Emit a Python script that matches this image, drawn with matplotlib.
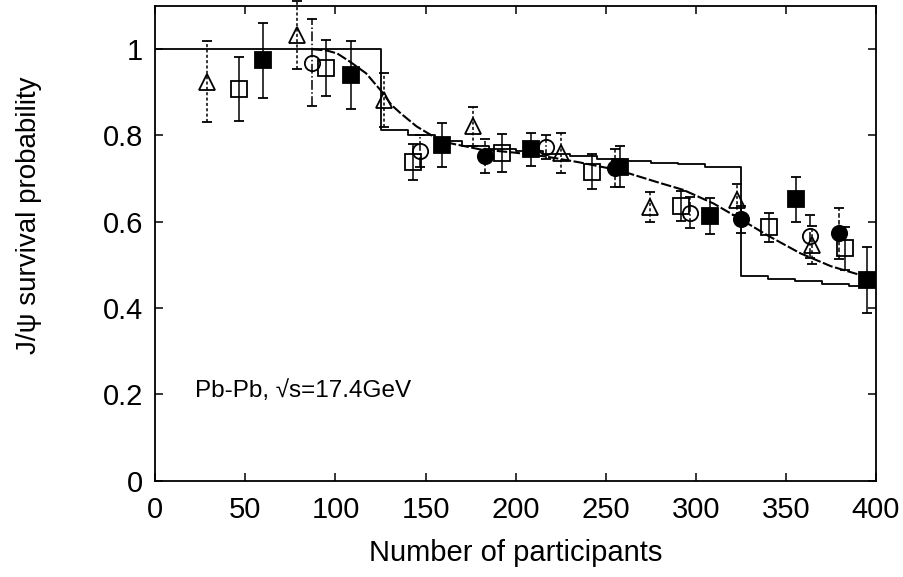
import matplotlib
matplotlib.use("Agg")
import matplotlib.pyplot as plt

plt.rcParams['font.family'] = ['Liberation Sans', 'DejaVu Sans']

# Filled squares (solid error bars)
fsq_x = [59.6, 108.6, 158.9, 208.3, 257.8, 308.1, 355.4, 395.2]
fsq_y = [0.974, 0.940, 0.778, 0.768, 0.728, 0.614, 0.652, 0.465]
fsq_e = [0.087, 0.078, 0.051, 0.038, 0.048, 0.042, 0.052, 0.076]

# Open squares (solid error bars)
osq_x = [46.6, 94.5, 143.2, 192.7, 242.4, 291.7, 340.7, 383.0]
osq_y = [0.907, 0.956, 0.739, 0.759, 0.716, 0.637, 0.587, 0.539]
osq_e = [0.074, 0.065, 0.042, 0.044, 0.040, 0.035, 0.033, 0.050]

# Open triangles (dotted error bars)
tri_x = [28.5, 78.5, 127.0, 176.4, 225.1, 274.4, 322.9, 364.5]
tri_y = [0.925, 1.033, 0.882, 0.821, 0.759, 0.635, 0.651, 0.546]
tri_e = [0.094, 0.078, 0.062, 0.045, 0.047, 0.035, 0.036, 0.045]

# Open circles (dash-dot error bars)
oci_x = [86.8, 146.9, 217.1, 297.0, 363.2]
oci_y = [0.969, 0.765, 0.773, 0.621, 0.566]
oci_e = [0.101, 0.037, 0.027, 0.036, 0.049]

# Filled circles (dashed error bars)
fci_x = [182.9, 255.0, 325.0, 379.5]
fci_y = [0.753, 0.724, 0.606, 0.573]
fci_e = [0.039, 0.044, 0.031, 0.059]

# Step model (solid)
step_x = [0, 125, 140, 155, 170, 185, 200, 215, 230, 245, 260, 275, 290, 305,
          325, 340, 355, 370, 385, 400]
step_y = [1.0, 0.813, 0.800, 0.788, 0.775, 0.768, 0.763, 0.758, 0.752, 0.745,
          0.740, 0.737, 0.735, 0.728, 0.474, 0.468, 0.462, 0.456, 0.451, 0.447]

# Smooth model (dashed)
curve_x = [87, 95, 101, 108, 117, 125.6, 131, 136, 145, 159, 180, 200, 217,
           235, 254, 263, 280, 293, 310, 324, 340, 358, 375, 391, 400]
curve_y = [1.0, 0.997, 0.99, 0.971, 0.944, 0.902, 0.871, 0.852, 0.821, 0.786,
           0.768, 0.760, 0.751, 0.738, 0.722, 0.712, 0.690, 0.674, 0.642, 0.608,
           0.568, 0.527, 0.497, 0.477, 0.465]

x_ticks = [0, 50, 100, 150, 200, 250, 300, 350, 400]
y_ticks = [0, 0.2, 0.4, 0.6, 0.8, 1.0]
y_tick_labels = ['0', '0.2', '0.4', '0.6', '0.8', '1']

fig = plt.figure(figsize=(9.04, 5.77), dpi=100)
ax = fig.add_axes([0.1718, 0.1669, 0.7972, 0.8227])

ax.plot(step_x, step_y, color='black', lw=1.3, drawstyle='steps-post', zorder=2)
ax.plot(curve_x, curve_y, color='black', lw=1.5, linestyle=(0, (5, 1.2)), zorder=2)

common = dict(color='black', ecolor='black', elinewidth=1.1, capsize=3.6,
              capthick=1.2, markeredgecolor='black', markeredgewidth=1.3,
              zorder=3, clip_on=False)

eb = ax.errorbar(tri_x, tri_y, yerr=tri_e, fmt='^', ms=11, mfc='none', **common)
eb[2][0].set_linestyle((0, (2, 1.5)))
eb = ax.errorbar(oci_x, oci_y, yerr=oci_e, fmt='o', ms=11, mfc='none', **common)
eb[2][0].set_linestyle('-.')
eb = ax.errorbar(fci_x, fci_y, yerr=fci_e, fmt='o', ms=11, mfc='black', **common)
eb[2][0].set_linestyle((0, (3, 1.5)))
ax.errorbar(osq_x, osq_y, yerr=osq_e, fmt='s', ms=11, mfc='none', **common)
ax.errorbar(fsq_x, fsq_y, yerr=fsq_e, fmt='s', ms=11, mfc='black', **common)

ax.set_xlim(0, 400)
ax.set_ylim(0, 1.1)
ax.set_xticks(x_ticks)
ax.set_yticks(y_ticks)
ax.set_yticklabels(y_tick_labels)
ax.tick_params(direction='in', length=6, width=1.1, top=True, right=True,
               labelsize=21, colors='black')
ax.tick_params(axis='x', pad=11)
ax.tick_params(axis='y', pad=9)
for s in ax.spines.values():
    s.set_linewidth(1.3)

ax.set_xlabel('Number of participants', fontsize=21, labelpad=11)
ax.set_ylabel('J/ψ survival probability', fontsize=20)
ax.yaxis.set_label_coords(-0.157, 0.56)

ax.text(22, 0.208, 'Pb-Pb, √s=17.4GeV', fontsize=17.5, va='center', ha='left')

fig.savefig('out.png', dpi=100)
